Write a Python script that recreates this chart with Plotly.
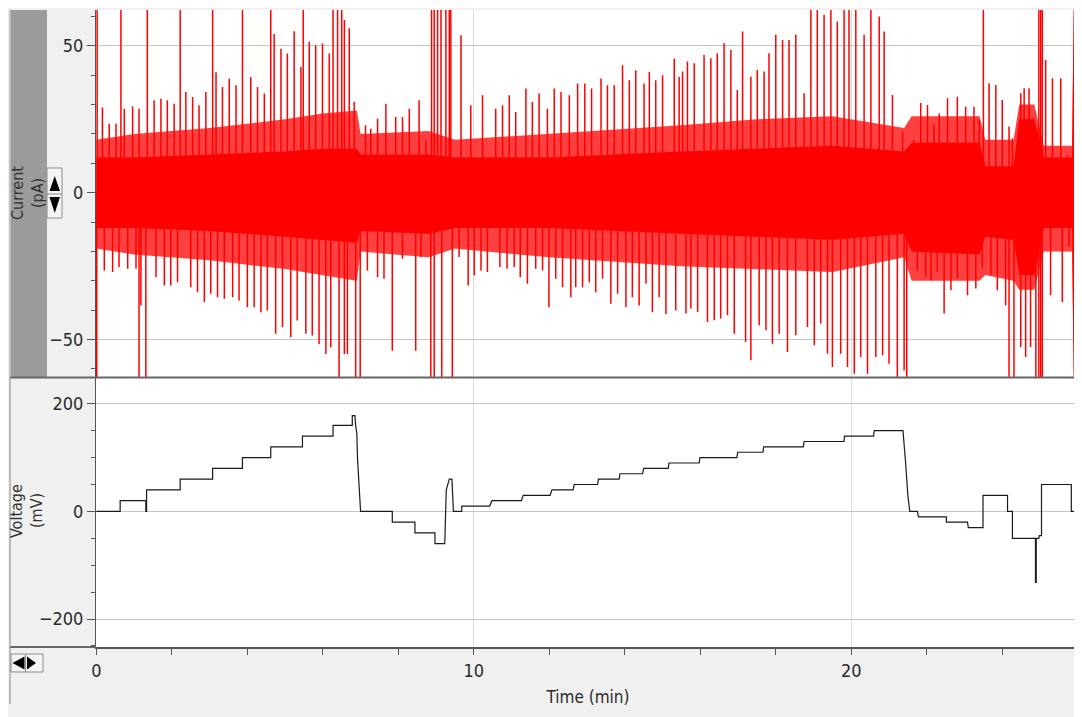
import plotly.graph_objects as go

# ---------------- data ----------------
# Voltage protocol (time in min, voltage in mV)
volt_t = [0, 0.63, 0.63, 1.31, 1.31, 1.33, 1.33, 2.22, 2.22, 3.08, 3.08, 3.87, 3.87, 4.62, 4.62,
          5.46, 5.46, 6.27, 6.27, 6.78, 6.78, 6.85, 6.87, 6.90, 6.92, 6.96, 7.00, 7.84, 7.84, 8.44,
          8.44, 8.97, 8.97, 9.23, 9.27, 9.35, 9.42, 9.46, 9.68, 9.68, 10.42, 10.48, 11.26, 11.31,
          12.02, 12.07, 12.63, 12.66, 13.28, 13.30, 13.85, 13.87, 14.47, 14.50, 15.15, 15.17,
          15.97, 15.99, 16.97, 16.99, 17.66, 17.68, 18.73, 18.75, 19.81, 19.82, 20.59, 20.61,
          21.37, 21.44, 21.50, 21.55, 21.75, 21.78, 22.52, 22.52, 23.08, 23.10, 23.49, 23.49,
          24.14, 24.14, 24.27, 24.27, 24.88, 24.88, 24.90, 24.90, 24.97, 24.98, 25.04, 25.04,
          25.83, 25.83, 26.05]
volt_v = [0, 0, 20, 20, 0, 0, 40, 40, 60, 60, 80, 80, 100, 100, 120,
          120, 140, 140, 160, 160, 178, 178, 160, 145, 96, 40, 0, 0, -20, -20,
          -40, -40, -60, -60, 40, 60, 60, 0, 0, 10, 10, 20, 20, 30,
          30, 40, 40, 50, 50, 60, 60, 70, 70, 80, 80, 90,
          90, 100, 100, 110, 110, 120, 120, 130, 130, 140, 140, 150,
          150, 90, 29, 0, 0, -10, -10, -20, -20, -30, -30, 30,
          30, 0, 0, -50, -50, -132, -132, -50, -50, -45, -45, 50,
          50, 0, 0]

# Current: envelopes of the noise (pA). "fringe" = outer zone of dense lines, "core" = solid centre
env_t = [0, 1, 3, 5, 6, 6.9, 7.0, 8.8, 9.5, 12, 15.5, 17.5, 19.5, 21.4, 21.6, 23.4, 23.55,
         24.3, 24.45, 24.85, 25.1, 25.85, 25.9, 26.05]
fringe_hi = [18, 20, 22, 25, 27, 28, 20, 21, 18, 20, 23, 25, 26, 22, 26, 26, 18,
             18, 30, 30, 16, 16, 70, 70]
fringe_lo = [-19, -21, -23, -26, -28, -30, -20, -22, -19, -22, -25, -26, -27, -22, -30, -30, -28,
             -30, -33, -33, -20, -20, -70, -70]
core_hi = [12, 12, 13, 14, 15, 15, 13, 13, 12, 12, 14, 15, 16, 14, 17, 17, 9,
           9, 25, 25, 12, 12, 70, 70]
core_lo = [-12, -12, -13, -15, -16, -17, -13, -14, -12, -12, -14, -15, -16, -14, -20, -21, -15,
           -16, -28, -28, -12, -12, -70, -70]

# Current: upward spikes (time min, peak pA); 70 = beyond the top of the view
up_t = [0.02, 0.16, 0.34, 0.52, 0.65, 0.74, 0.96, 1.13, 1.35, 1.53, 1.71, 1.88, 2.06, 2.22, 2.37,
        2.55, 2.72, 2.90, 3.08, 3.17, 3.34, 3.52, 3.70, 3.87, 4.09, 4.27, 4.45, 4.62, 4.71,
        4.89, 5.06, 5.24, 5.42, 5.48, 5.64, 5.81, 5.99, 6.17, 6.27, 6.39, 6.50, 6.57, 6.70,
        6.83, 7.13, 7.27, 7.45, 7.67, 7.93, 8.11, 8.29, 8.55, 8.73, 8.88, 8.95, 9.04, 9.13,
        9.26, 9.35, 9.39, 9.66, 9.92, 10.23, 10.58, 10.76, 10.94, 11.11, 11.38, 11.55, 11.73,
        11.95, 12.13, 12.31, 12.53, 12.75, 12.94, 13.12, 13.37, 13.54, 13.72, 13.94, 14.12,
        14.29, 14.51, 14.65, 14.82, 15.00, 15.31, 15.44, 15.53, 15.66, 15.84, 16.10, 16.28,
        16.45, 16.63, 16.81, 16.98, 17.12, 17.34, 17.51, 17.69, 17.82, 18.00, 18.18, 18.35,
        18.53, 18.75, 18.93, 19.10, 19.28, 19.46, 19.63, 19.81, 19.94, 20.12, 20.34, 20.52,
        20.74, 20.87, 21.09, 21.36, 21.66, 21.84, 22.02, 22.19, 22.33, 22.55, 22.81, 23.03,
        23.25, 23.39, 23.50, 23.65, 23.83, 24.00, 24.18, 24.27, 24.49, 24.58, 24.71, 24.97,
        25.02, 25.06, 25.15, 25.33, 25.55, 25.73]
up_v = [70, 29, 23.5, 23.5, 70, 28.6, 29.4, 28.6, 70, 31.5, 32, 31.5, 30.3, 70, 34.3,
        32.6, 29.8, 34.3, 70, 41, 36, 38.9, 36.6, 70, 39.4, 36, 33.8, 70, 54,
        49, 47.4, 55, 42.8, 70, 51.4, 50.2, 50.8, 47.4, 70, 70, 70, 58.8, 56,
        31, 23, 21.8, 25.2, 30.3, 25.8, 25.8, 28.6, 31.5, 17.8, 70, 70, 70, 70,
        70, 70, 70, 53.6, 29.8, 33.2, 28.6, 29.8, 33.2, 27.5, 35.5, 30.9, 33.8,
        28.6, 35.5, 34.3, 33.2, 37.2, 37.2, 35.5, 38.9, 36.6, 36.6, 43.4, 38.3,
        41.7, 37.2, 41.1, 38.3, 40, 45.7, 39.4, 41.3, 44.7, 44.1, 46.9, 45.8,
        47.5, 50.9, 48.6, 35, 54.9, 39.5, 41.8, 41.3, 47.5, 53.8, 52, 52,
        53.8, 33.9, 70, 70, 60.6, 70, 58.3, 70, 70, 70, 53.8, 70,
        60, 54.9, 33.3, 20.8, 18, 30.5, 29.9, 23.1, 27, 32.2, 32.7, 29.3,
        29.3, 24.8, 70, 37.3, 36.7, 31.6, 22.5, 18.5, 33.9, 35.6, 35.6, 70,
        70, 70, 45.2, 39, 39, 12.8]

# Current: downward spikes (time min, trough pA); -70 = beyond the bottom of the view
dn_t = [0.01, 0.21, 0.43, 0.60, 0.83, 1.05, 1.13, 1.18, 1.31, 1.58, 1.80, 1.97, 2.15, 2.50, 2.68,
        2.86, 3.03, 3.21, 3.39, 3.61, 3.78, 4.00, 4.18, 4.36, 4.53, 4.75, 4.93, 5.15, 5.32,
        5.55, 5.72, 5.90, 6.08, 6.21, 6.43, 6.57, 6.65, 6.87, 6.99, 7.18, 7.45, 7.62, 7.84,
        8.11, 8.46, 8.60, 8.86, 8.95, 9.15, 9.43, 9.61, 9.85, 10.01, 10.19, 10.36, 10.69,
        10.88, 11.07, 11.23, 11.42, 11.64, 11.82, 11.99, 12.17, 12.35, 12.57, 12.70, 12.88,
        13.06, 13.23, 13.41, 13.63, 13.81, 14.03, 14.20, 14.38, 14.56, 14.73, 14.91, 15.09,
        15.35, 15.62, 15.75, 15.93, 16.19, 16.37, 16.54, 16.72, 16.90, 17.20, 17.34, 17.56,
        17.74, 17.91, 18.09, 18.31, 18.53, 18.84, 19.02, 19.19, 19.37, 19.50, 19.72, 19.90,
        20.08, 20.25, 20.43, 20.65, 20.83, 21.00, 21.22, 21.40, 21.47, 21.75, 21.97, 22.11,
        22.28, 22.46, 22.64, 22.81, 23.08, 23.30, 23.47, 23.70, 23.87, 24.09, 24.18, 24.31,
        24.49, 24.62, 24.75, 24.89, 24.97, 25.02, 25.06, 25.28, 25.59, 25.77]
dn_v = [-70, -26.5, -27, -25.3, -25.9, -25.9, -70, -38.4, -70, -28.8, -31.6, -31.6, -30.5, -32.2, -33.9,
        -37.3, -34.4, -35.6, -36.1, -35.6, -36.7, -39, -39, -40.7, -40.1, -48, -45.8, -49.2, -43.5,
        -48, -48.6, -51.5, -54.9, -52.6, -70, -54.9, -54.9, -70, -70, -26.5, -28.8, -29.3, -53.8,
        -22.5, -53.8, -21.9, -70, -70, -70, -70, -21.9, -31.6, -28.2, -26.5, -27, -25.3,
        -25.9, -25.3, -28.8, -31, -25.9, -26.5, -39, -29.3, -32.2, -35.6, -32.2, -32.2,
        -30.5, -33.9, -29.3, -37.8, -34.4, -39, -35.6, -38.4, -31, -40.7, -35.6, -41.3,
        -40.1, -41.1, -39.4, -40.6, -44, -43.4, -42.8, -41.7, -48, -50.8, -57, -45.1,
        -46.8, -51.4, -48, -54.2, -48.5, -45.7, -51.9, -44.5, -54.8, -59.3, -54.8, -59.3,
        -61.6, -55.9, -61.6, -55.9, -55.3, -58.2, -70, -60.5, -70, -26.4, -28.6, -29.8,
        -26.9, -41.1, -33.2, -29.2, -34.9, -32.6, -25.8, -28.1, -33.2, -38.3, -70, -70,
        -52.5, -55.9, -52.5, -70, -70, -70, -70, -34.9, -37.2, -18.4]

time_ticks = [0, 10, 20]
current_ticks = [-50, 0, 50]
voltage_ticks = [-200, 0, 200]

# ---------------- figure ----------------
OFF = 8                      # page body margin of the html page
W, H = 1074, 709
ML, MR, MT, MB = 88, 2, 2, 70
PW, PH = W - ML - MR, H - MT - MB


def px(x):  # window pixel x -> paper x
    return (x - OFF - ML) / PW


def py(y):  # window pixel y -> paper y
    return (H - MB - (y - OFF)) / PH


RED = "#ff0000"
fig = go.Figure()

# fringe band (dense thin lines -> slightly lighter red)
fig.add_trace(go.Scatter(
    x=env_t + env_t[::-1], y=fringe_hi + fringe_lo[::-1], fill="toself",
    fillcolor="rgba(255,0,0,0.75)", line=dict(width=0), mode="lines",
    xaxis="x2", yaxis="y2", hoverinfo="skip", showlegend=False))
# solid core
fig.add_trace(go.Scatter(
    x=env_t + env_t[::-1], y=core_hi + core_lo[::-1], fill="toself",
    fillcolor=RED, line=dict(width=0), mode="lines",
    xaxis="x2", yaxis="y2", hoverinfo="skip", showlegend=False))

# spikes
sx, sy = [], []
for t, v in zip(up_t, up_v):
    sx += [t, t, None]
    sy += [0, v, None]
for t, v in zip(dn_t, dn_v):
    sx += [t, t, None]
    sy += [0, v, None]
fig.add_trace(go.Scatter(x=sx, y=sy, mode="lines", line=dict(color=RED, width=1.5),
                         xaxis="x2", yaxis="y2", hoverinfo="skip", showlegend=False))

# voltage
fig.add_trace(go.Scatter(x=volt_t, y=volt_v, mode="lines", line=dict(color="#1a1a1a", width=1.2),
                         xaxis="x", yaxis="y", hoverinfo="skip", showlegend=False))

FONT = "DejaVu Sans Condensed, Liberation Sans Narrow, Liberation Sans, Arial, sans-serif"
GRID = "#c4c4c4"
VGRID = "#dcdcdc"
AX = "#555555"

xr = [-0.01, 26.06]
split_bot = py(378)
split_top = py(377.5)

common_x = dict(range=xr, showgrid=True, gridcolor=VGRID, gridwidth=1, zeroline=False,
                tickvals=time_ticks)
fig.update_layout(
    width=W, height=H,
    margin=dict(l=ML, r=MR, t=MT, b=MB),
    paper_bgcolor="#f0f0f0", plot_bgcolor="#ffffff",
    font=dict(family=FONT, size=18, color="#2a2a2a"),
    showlegend=False,
    xaxis=dict(**common_x, anchor="y", ticks="outside", ticklen=6, tickcolor=AX,
               showline=True, linecolor=AX, linewidth=2,
               minor=dict(dtick=2, ticks="outside", ticklen=6, tickcolor=AX, showgrid=False),
               title=dict(text="Time (min)", font=dict(size=17), standoff=12)),
    xaxis2=dict(**common_x, anchor="y2", matches="x", showticklabels=False, ticks="",
                showline=False),
    yaxis=dict(domain=[0, split_bot], range=[-252, 248], tickvals=voltage_ticks,
               showgrid=True, gridcolor=GRID, zeroline=False, ticks="outside", ticklen=8,
               tickcolor=AX, showline=True, linecolor=AX, linewidth=1,
               minor=dict(dtick=50, ticks="outside", ticklen=4, tickcolor=AX, showgrid=False)),
    yaxis2=dict(domain=[split_top, 1], range=[-62.9, 62.2], tickvals=current_ticks,
                showgrid=True, gridcolor=GRID, zeroline=False, ticks="outside", ticklen=8,
                tickcolor=AX, showline=True, linecolor=AX, linewidth=1,
                minor=dict(dtick=10, ticks="outside", ticklen=4, tickcolor=AX, showgrid=False)),
)


def tri(points):
    return "M " + " L ".join(f"{px(a):.5f} {py(b):.5f}" for a, b in points) + " Z"


shapes = []
# dark grey band beside the current axis
shapes.append(dict(type="rect", xref="paper", yref="paper", x0=px(11), x1=px(47), y0=py(10),
                   y1=py(377.5), fillcolor="#9b9b9b", line=dict(width=0), layer="below"))
# separators
shapes.append(dict(type="line", xref="paper", yref="paper", x0=px(10), x1=px(1080), y0=py(377.5),
                   y1=py(377.5), line=dict(color="#666666", width=2)))
shapes.append(dict(type="line", xref="paper", yref="paper", x0=px(10), x1=px(96), y0=py(647),
                   y1=py(647), line=dict(color="#666666", width=2)))
shapes.append(dict(type="line", xref="paper", yref="paper", x0=px(10), x1=px(10), y0=py(10),
                   y1=py(704), line=dict(color="#8a8a8a", width=1)))
# up/down button
shapes.append(dict(type="rect", xref="paper", yref="paper", x0=px(47), x1=px(62), y0=py(168),
                   y1=py(218), fillcolor="#f4f4f4", line=dict(color="#8a8a8a", width=1)))
shapes.append(dict(type="line", xref="paper", yref="paper", x0=px(47), x1=px(62), y0=py(194),
                   y1=py(194), line=dict(color="#8a8a8a", width=1)))
shapes.append(dict(type="path", xref="paper", yref="paper",
                   path=tri([(49.5, 191), (60, 191), (54.75, 176)]),
                   fillcolor="#000000", line=dict(width=0)))
shapes.append(dict(type="path", xref="paper", yref="paper",
                   path=tri([(49.5, 197), (60, 197), (54.75, 213)]),
                   fillcolor="#000000", line=dict(width=0)))
# left/right button
shapes.append(dict(type="rect", xref="paper", yref="paper", x0=px(11), x1=px(43), y0=py(654),
                   y1=py(672), fillcolor="#f4f4f4", line=dict(color="#8a8a8a", width=1)))
shapes.append(dict(type="line", xref="paper", yref="paper", x0=px(25.5), x1=px(25.5), y0=py(654),
                   y1=py(672), line=dict(color="#8a8a8a", width=1)))
shapes.append(dict(type="path", xref="paper", yref="paper",
                   path=tri([(24.5, 656.5), (24.5, 669.5), (12.5, 663)]),
                   fillcolor="#000000", line=dict(width=0)))
shapes.append(dict(type="path", xref="paper", yref="paper",
                   path=tri([(27, 656.5), (27, 669.5), (36, 663)]),
                   fillcolor="#000000", line=dict(width=0)))
fig.update_layout(shapes=shapes)

ann = []
for text, xc, yc in [("Current", 17, 193), ("(pA)", 37, 193),
                     ("Voltage", 17, 511), ("(mV)", 37, 511)]:
    ann.append(dict(text=text, xref="paper", yref="paper", x=px(xc), y=py(yc),
                    showarrow=False, textangle=-90, font=dict(size=16, color="#333333"),
                    xanchor="center", yanchor="middle"))
fig.update_layout(annotations=ann)

fig.write_html("out.html")
